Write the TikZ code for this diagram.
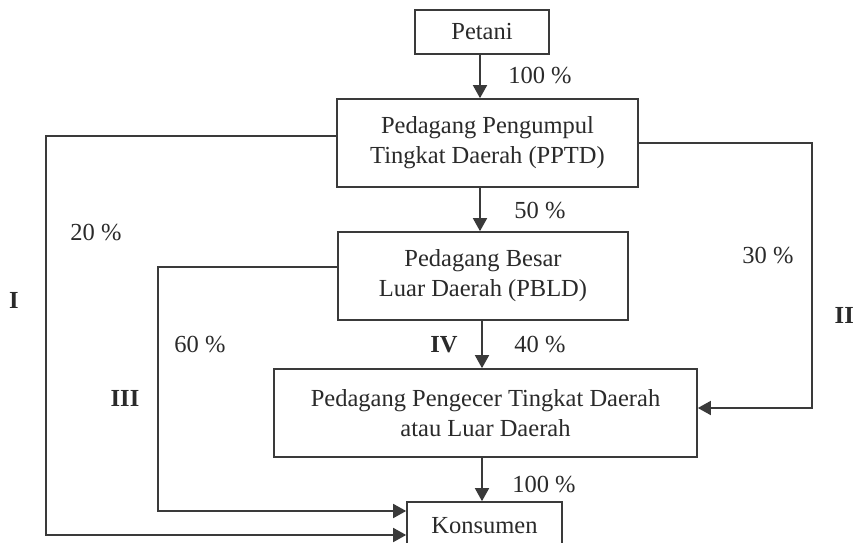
\documentclass[tikz,border=0pt]{standalone}
\usepackage{fontspec}
\setmainfont{Liberation Serif}
\usetikzlibrary{arrows.meta}
\definecolor{ink}{HTML}{3A3A3A}
\definecolor{txt}{HTML}{2A2A2A}
\tikzset{
  box/.style={draw=ink, line width=1.7pt, align=center, text=txt, inner sep=0pt,
    font=\fontsize{24.5}{30}\selectfont},
  arr/.style={draw=ink, line width=1.7pt, -{Triangle[length=13pt,width=14pt]}},
  lbl/.style={text=txt, inner sep=0pt, font=\fontsize{24.5}{30}\selectfont},
  rom/.style={text=txt, inner sep=0pt, font=\fontsize{24.5}{30}\selectfont\bfseries}
}
\begin{document}
\begin{tikzpicture}[x=1pt,y=-1pt]
\clip (0,0) rectangle (855,543);
\fill[white] (0,0) rectangle (855,543);
% boxes
\node[box, minimum width=134pt, minimum height=44pt] (petani) at (482,32) {Petani};
\node[box, minimum width=301pt, minimum height=88pt] (pptd) at (487.5,143) {Pedagang Pengumpul\\Tingkat Daerah (PPTD)};
\node[box, minimum width=290pt, minimum height=88pt] (pbld) at (483,276) {Pedagang Besar\\Luar Daerah (PBLD)};
\node[box, minimum width=423pt, minimum height=88pt] (ret) at (485.5,413) {Pedagang Pengecer Tingkat Daerah\\atau Luar Daerah};
\node[box, minimum width=155pt, minimum height=48pt] (kons) at (484.5,526) {Konsumen};
% vertical arrows
\draw[arr] ([xshift=-2pt]petani.south) -- ([xshift=-2pt]petani.south |- pptd.north);
\draw[arr] ([xshift=-7.5pt]pptd.south) -- ([xshift=-7.5pt]pptd.south |- pbld.north);
\draw[arr] ([xshift=-1pt]pbld.south) -- ([xshift=-1pt]pbld.south |- ret.north);
\draw[arr] ([xshift=-3.5pt]ret.south) -- ([xshift=-3.5pt]ret.south |- kons.north);
% channel I
\draw[arr] ([yshift=7pt]pptd.west) -- ++(-290,0) |- ([yshift=-9pt]kons.west);
% channel III
\draw[arr] ([yshift=9pt]pbld.west) -- ++(-179,0) |- ([yshift=15pt]kons.west);
% channel II
\draw[arr] (pptd.east) -- ++(173,0) |- ([yshift=5pt]ret.east);
% labels
\node[lbl] (l100a) at (540,76) {100 \%};
\node[lbl] (l50) at (540,211) {50 \%};
\node[lbl] (l20) at (96,233) {20 \%};
\node[lbl] (l30) at (768,256) {30 \%};
\node[lbl] (l60) at (200,345) {60 \%};
\node[lbl] (l40) at (540,345) {40 \%};
\node[lbl] (l100b) at (544,485) {100 \%};
\node[rom] (rI) at (14,300) {I};
\node[rom] (rIII) at (125,398) {III};
\node[rom] (rIV) at (444,345) {IV};
\node[rom, anchor=east] (rII) at (854,315) {II};
\end{tikzpicture}
\end{document}
